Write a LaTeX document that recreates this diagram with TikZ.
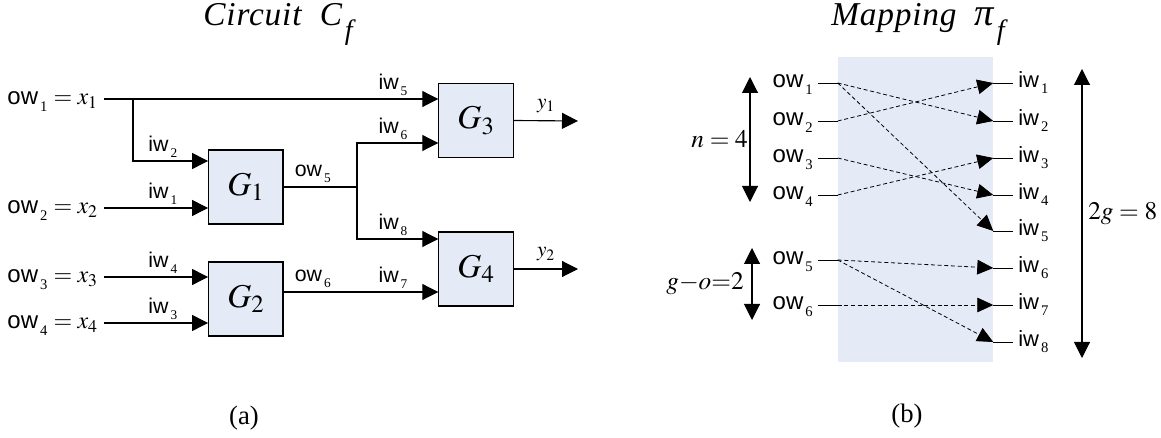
\documentclass[tikz,border=0pt]{standalone}
\usepackage{mathptmx}
\usepackage{fontspec}
\setmainfont{Liberation Serif}
\setsansfont{Liberation Sans}
\usetikzlibrary{arrows.meta,calc}

\definecolor{paneBlue}{RGB}{229,235,246}
\newcommand{\subsz}{10}
\newcommand{\owire}[1]{\textsf{ow}\kern1.5pt\raisebox{-0.26em}{\fontsize{\subsz}{\subsz}\selectfont #1}}
\newcommand{\iwire}[1]{\textsf{iw}\kern1.5pt\raisebox{-0.26em}{\fontsize{\subsz}{\subsz}\selectfont #1}}

\begin{document}
\begin{tikzpicture}[x=0.75pt,y=-0.75pt,
    gate/.style={draw, line width=0.8pt, fill=paneBlue, minimum width=55.8pt,
        minimum height=55.5pt, inner sep=0pt, font=\fontsize{25}{25}\selectfont},
    wire/.style={line width=0.85pt, -{Triangle[length=12pt,width=12pt]}},
    plainwire/.style={line width=0.85pt},
    mapwire/.style={line width=0.6pt, dash pattern=on 3pt off 2pt,
        -{Triangle[length=12pt,width=11pt]}},
    dimarrow/.style={line width=0.8pt,
        {Triangle[length=12pt,width=12pt]}-{Triangle[length=12pt,width=12pt]}},
    sig/.style={inner sep=0pt, font=\fontsize{16}{16}\selectfont},
    insig/.style={inner sep=0pt, font={\fontsize{18}{18}\selectfont\renewcommand{\subsz}{11}}},
    msig/.style={inner xsep=3.75pt, inner ysep=0pt,
        font={\fontsize{18}{18}\selectfont\renewcommand{\subsz}{11}}},
    isig/.style={inner xsep=3.75pt, inner ysep=0pt,
        font={\fontsize{16.5}{16.5}\selectfont\renewcommand{\subsz}{11}}},
    dimlbl/.style={inner sep=0pt, font=\fontsize{19}{19}\selectfont},
    title/.style={inner sep=0pt, font=\fontsize{25}{25}\selectfont\itshape\addfontfeatures{LetterSpace=2.5}},
    caption/.style={inner sep=0pt, font=\fontsize{20}{20}\selectfont},
]
\useasboundingbox (0,0) rectangle (1161,438);

% Titles
\node[title, anchor=base] (tCirc) at (278,26) {Circuit\ \ C\kern2pt\raisebox{-10pt}{\fontsize{21}{21}\selectfont f}};
\node[title, anchor=base] (tMap) at (918,26) {Mapping\ \ {\fontsize{29}{29}\selectfont π}\kern2pt\raisebox{-10pt}{\fontsize{21}{21}\selectfont f}};

% Gates
\node[gate] (G1) at (245.8,187) {$G_1$};
\node[gate] (G2) at (245.8,299) {$G_2$};
\node[gate] (G3) at (476,120.5) {$G_3$};
\node[gate] (G4) at (476,269) {$G_4$};

% Circuit inputs
\node[insig, anchor=base east] (ow1) at (98,105) {\owire1 $= x_1$};
\node[insig, anchor=base east] (ow2) at (98,214) {\owire2 $= x_2$};
\node[insig, anchor=base east] (ow3) at (98,283) {\owire3 $= x_3$};
\node[insig, anchor=base east] (ow4) at (98,329) {\owire4 $= x_4$};

\coordinate (s1) at ($(ow1.base east)+(6,-6)$);
\coordinate (s2) at ($(ow2.base east)+(6,-6)$);
\coordinate (s3) at ($(ow3.base east)+(6,-6)$);
\coordinate (s4) at ($(ow4.base east)+(6,-6)$);
\coordinate (b1) at (133,99);
\coordinate (b2) at (357,187);

\coordinate (g1a) at (G1.west |- 0,161);
\coordinate (g1b) at (G1.west |- s2);
\coordinate (g2a) at (G2.west |- s3);
\coordinate (g2b) at (G2.west |- s4);
\coordinate (g3a) at (G3.west |- s1);
\coordinate (g3b) at (G3.west |- 0,143);
\coordinate (g4a) at (G4.west |- 0,239);
\coordinate (g4b) at (G4.west |- 0,292);
\coordinate (y1end) at (578,121);
\coordinate (y2end) at (578,269);

% Circuit wires
\draw[wire] (s1) -- (g3a);
\draw[wire] (b1) |- (g1a);
\draw[wire] (s2) -- (g1b);
\draw[wire] (s3) -- (g2a);
\draw[wire] (s4) -- (g2b);
\draw[plainwire] (G1.east) -- (b2);
\draw[wire] (b2) |- (g3b);
\draw[wire] (b2) |- (g4a);
\draw[wire] (G2.east |- g4b) -- (g4b);
\draw[wire] (G3.east) -- (y1end);
\draw[wire] (G4.east) -- (y2end);

% Wire labels
\node[sig, anchor=base west] (iw2) at ($(g1a)+(-60,-9)$) {\iwire2};
\node[sig, anchor=base west] (iw1) at ($(g1b)+(-60,-9)$) {\iwire1};
\node[sig, anchor=base west] (iw4) at ($(g2a)+(-60,-9)$) {\iwire4};
\node[sig, anchor=base west] (iw3) at ($(g2b)+(-60,-9)$) {\iwire3};
\node[sig, anchor=base west] (iw5) at ($(g3a)+(-60,-9)$) {\iwire5};
\node[sig, anchor=base west] (iw6) at ($(g3b)+(-60,-9)$) {\iwire6};
\node[sig, anchor=base west] (iw8) at ($(g4a)+(-60,-9)$) {\iwire8};
\node[sig, anchor=base west] (iw7) at ($(g4b)+(-60,-9)$) {\iwire7};
\node[sig, anchor=base west] (ow5) at ($(G1.east)+(11,-10)$) {\owire5};
\node[sig, anchor=base west] (ow6) at ($(G2.east |- g4b)+(11,-10)$) {\owire6};
\node[sig, anchor=base west] (y1) at ($(G3.east)+(23,-12)$) {$y_1$};
\node[sig, anchor=base west] (y2) at ($(G4.east)+(23,-12)$) {$y_2$};

% Mapping pane
\node[fill=paneBlue, minimum width=116.25pt, minimum height=228.75pt, inner sep=0pt]
    (pane) at (915.5,209.5) {};

% Mapping outputs
\node[msig, anchor=base east] (mo1) at (818,88) {\owire1};
\node[msig, anchor=base east] (mo2) at (818,126) {\owire2};
\node[msig, anchor=base east] (mo3) at (818,163) {\owire3};
\node[msig, anchor=base east] (mo4) at (818,200) {\owire4};
\node[msig, anchor=base east] (mo5) at (818,265) {\owire5};
\node[msig, anchor=base east] (mo6) at (818,310) {\owire6};

\coordinate (po1) at (pane.west |- 0,83);
\coordinate (po2) at (pane.west |- 0,121);
\coordinate (po3) at (pane.west |- 0,158);
\coordinate (po4) at (pane.west |- 0,195);
\coordinate (po5) at (pane.west |- 0,260);
\coordinate (po6) at (pane.west |- 0,305);

% Mapping inputs
\node[isig, anchor=base west] (mi1) at (1013,88) {\iwire1};
\node[isig, anchor=base west] (mi2) at (1013,126) {\iwire2};
\node[isig, anchor=base west] (mi3) at (1013,163) {\iwire3};
\node[isig, anchor=base west] (mi4) at (1013,200) {\iwire4};
\node[isig, anchor=base west] (mi5) at (1013,236) {\iwire5};
\node[isig, anchor=base west] (mi6) at (1013,273) {\iwire6};
\node[isig, anchor=base west] (mi7) at (1013,310) {\iwire7};
\node[isig, anchor=base west] (mi8) at (1013,347) {\iwire8};

\coordinate (pi1) at (pane.east |- 0,83);
\coordinate (pi2) at (pane.east |- 0,121);
\coordinate (pi3) at (pane.east |- 0,158);
\coordinate (pi4) at (pane.east |- 0,195);
\coordinate (pi5) at (pane.east |- 0,231);
\coordinate (pi6) at (pane.east |- 0,268);
\coordinate (pi7) at (pane.east |- 0,305);
\coordinate (pi8) at (pane.east |- 0,342);

% Stubs
\draw[plainwire, line width=0.6pt] (mo1.east |- po1) -- (po1);
\draw[plainwire, line width=0.6pt] (mo2.east |- po2) -- (po2);
\draw[plainwire, line width=0.6pt] (mo3.east |- po3) -- (po3);
\draw[plainwire, line width=0.6pt] (mo4.east |- po4) -- (po4);
\draw[plainwire, line width=0.6pt] (mo5.east |- po5) -- (po5);
\draw[plainwire, line width=0.6pt] (mo6.east |- po6) -- (po6);
\draw[plainwire, line width=0.6pt] (pi1) -- (mi1.west |- pi1);
\draw[plainwire, line width=0.6pt] (pi2) -- (mi2.west |- pi2);
\draw[plainwire, line width=0.6pt] (pi3) -- (mi3.west |- pi3);
\draw[plainwire, line width=0.6pt] (pi4) -- (mi4.west |- pi4);
\draw[plainwire, line width=0.6pt] (pi5) -- (mi5.west |- pi5);
\draw[plainwire, line width=0.6pt] (pi6) -- (mi6.west |- pi6);
\draw[plainwire, line width=0.6pt] (pi7) -- (mi7.west |- pi7);
\draw[plainwire, line width=0.6pt] (pi8) -- (mi8.west |- pi8);

% Mapping pi_f
\draw[mapwire] (po1) -- (pi2);
\draw[mapwire] (po1) -- (pi5);
\draw[mapwire] (po2) -- (pi1);
\draw[mapwire] (po3) -- (pi4);
\draw[mapwire] (po4) -- (pi3);
\draw[mapwire] (po5) -- (pi6);
\draw[mapwire] (po5) -- (pi8);
\draw[mapwire] (po6) -- (pi7);

% Counts
\coordinate (nTop) at (750,77);
\coordinate (nBot) at (750,202);
\coordinate (gTop) at (752,248);
\coordinate (gBot) at (752,320);
\coordinate (wTop) at (1082,69);
\coordinate (wBot) at (1082,358);
\draw[dimarrow] (nTop) -- (nBot);
\draw[dimarrow] (gTop) -- (gBot);
\draw[dimarrow] (wTop) -- (wBot);
\node[dimlbl, anchor=east] (nLbl) at (748,139) {$n = 4$};
\node[dimlbl, anchor=east] (gLbl) at (744,284) {$g{-}o{=}2$};
\node[dimlbl, anchor=west] (wLbl) at (1088,214) {$2g = 8$};

% Captions
\node[caption] (capA) at (244,418) {(a)};
\node[caption] (capB) at (907,416) {(b)};
\end{tikzpicture}
\end{document}
